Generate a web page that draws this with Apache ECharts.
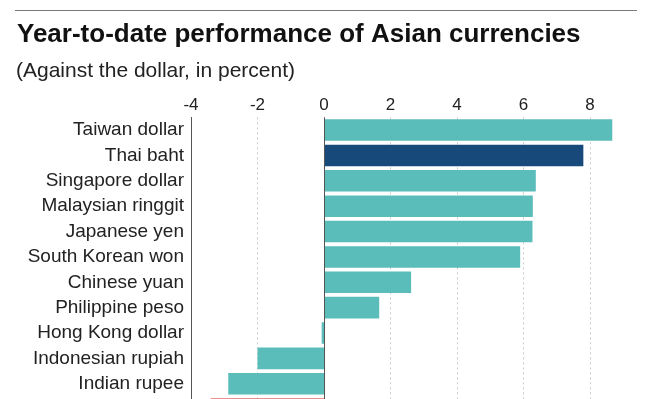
<!DOCTYPE html>
<html>
<head>
<meta charset="utf-8">
<script src="https://cdn.jsdelivr.net/npm/echarts@6/dist/echarts.min.js"></script>
<title>Year-to-date performance of Asian currencies</title>
</head>
<body style="margin: 0; overflow: hidden; background: #fff">
<div id="container" style="width: 660px; height: 430px"></div>
<script type="text/javascript">

// year-to-date change against the dollar, percent
let currencies = ['Taiwan dollar', 'Thai baht', 'Singapore dollar', 'Malaysian ringgit',
    'Japanese yen', 'South Korean won', 'Chinese yuan', 'Philippine peso',
    'Hong Kong dollar', 'Indonesian rupiah', 'Indian rupee', ''];
let ytdChange = [8.67, 7.80, 6.37, 6.28, 6.27, 5.90, 2.62, 1.66, -0.07, -2.0, -2.88, -3.41];
let xTicks = [-4, -2, 0, 2, 4, 6, 8];
let highlighted = 'Thai baht';

function colorFor(name) {
    if (name === highlighted) return '#174a7b';
    if (name === '') return '#e06f6b';
    return '#5bbdba';
}

let chart = echarts.init(document.getElementById('container'));
chart.setOption({
    animation: false,
    textStyle: { fontFamily: 'Liberation Sans, Arial, sans-serif' },
    title: [
        {
            text: 'Year-to-date performance of Asian currencies',
            left: 17, top: 22, padding: 0,
            textStyle: { fontSize: 26, fontWeight: 'bold', color: '#111' }
        },
        {
            text: '(Against the dollar, in percent)',
            left: 16, top: 61, padding: 0,
            textStyle: { fontSize: 21, fontWeight: 'normal', color: '#222' }
        }
    ],
    graphic: [{
        type: 'line',
        shape: { x1: 15, y1: 10.5, x2: 637, y2: 10.5 },
        style: { stroke: '#7a7a7a', lineWidth: 1 }
    }],
    grid: { left: 191, right: 3.5, top: 117.4, bottom: 8.2, containLabel: false },
    xAxis: {
        type: 'value',
        position: 'top',
        min: -4, max: 10, interval: 2,
        axisLine: { show: false },
        axisTick: { show: false },
        axisLabel: {
            margin: 4, fontSize: 17, color: '#222', showMaxLabel: false,
            formatter: v => (xTicks.indexOf(v) >= 0 ? String(v) : '')
        },
        splitLine: { lineStyle: { color: '#c8c8c8', type: [2, 3], width: 1 } }
    },
    yAxis: {
        type: 'category',
        data: currencies,
        inverse: true,
        axisLine: { onZero: false, lineStyle: { color: '#555', width: 1 } },
        axisTick: { show: false },
        axisLabel: { margin: 7, fontSize: 19, color: '#222' }
    },
    series: [{
        type: 'bar',
        barCategoryGap: '15%',
        data: currencies.map((c, i) => ({ value: ytdChange[i], itemStyle: { color: colorFor(c) } })),
        markLine: {
            silent: true,
            symbol: 'none',
            label: { show: false },
            lineStyle: { color: '#555', type: 'solid', width: 1 },
            data: [{ xAxis: 0 }]
        }
    }]
});

</script>
</body>
</html>
